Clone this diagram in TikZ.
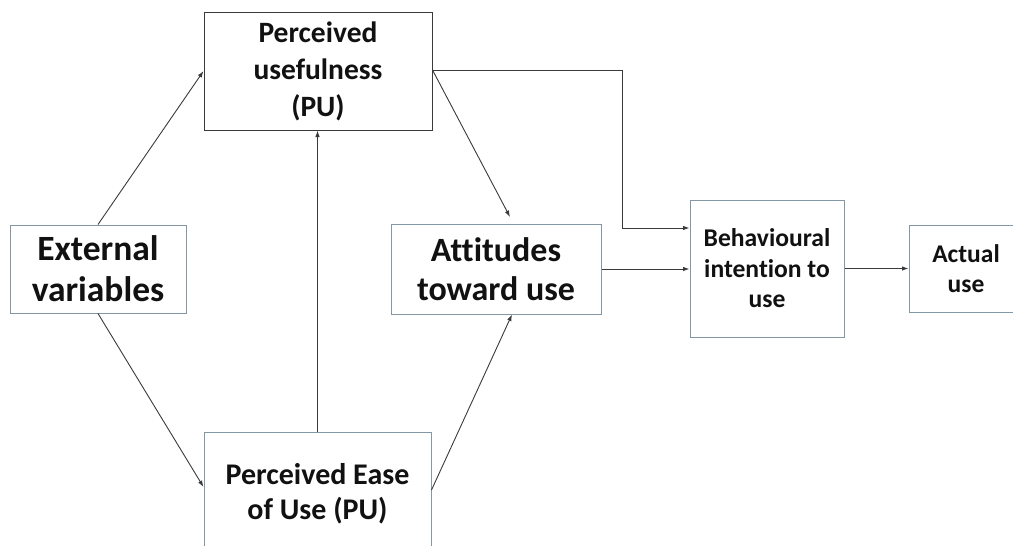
\documentclass[tikz,border=0pt]{standalone}
\usepackage{fontspec}
\setmainfont{Carlito}[Ligatures=NoCommon]
\usetikzlibrary{arrows.meta}
\definecolor{boxline}{HTML}{8397A5}
\definecolor{darkline}{HTML}{3A3A3A}
\definecolor{ink}{HTML}{111111}
\newcommand{\fsz}[2]{\bfseries\fontsize{#1}{#2}\selectfont}
\begin{document}
\begin{tikzpicture}[x=1pt,y=-1pt,
  box/.style={draw=boxline,line width=1pt,fill=white,align=center,
    text=ink,inner sep=0pt},
  link/.style={draw=darkline,line width=0.9pt,
    -{Latex[length=6.5pt,width=4.5pt]}}]
\useasboundingbox (0,0) rectangle (1013,546);
% boxes of the model
\node[box,font=\fsz{35.5}{41},minimum width=176pt,minimum height=88pt] (ext) at (98,269)
  {External\\variables};
\node[box,font=\fsz{29.5}{37},draw=darkline,minimum width=228pt,minimum height=118pt] (pu) at (318,71)
  {Perceived\\usefulness\\(PU)};
\node[box,font=\fsz{30}{35},minimum width=227pt,minimum height=124pt] (peou) at (317.5,494)
  {Perceived Ease\\of Use (PU)};
\node[box,font=\fsz{34}{39},minimum width=210pt,minimum height=90pt] (att) at (496,269)
  {Attitudes\\toward use};
\node[box,font=\fsz{25.6}{30.5},minimum width=154pt,minimum height=137pt] (beh) at (767,268.5)
  {Behavioural\\intention to\\use};
\node[box,font=\fsz{25.5}{30},minimum width=114pt,minimum height=87pt] (act) at (966,268.5)
  {Actual\\use};
% free ends and bends
\coordinate (puout) at (pu.east |- 0,70);
\coordinate (attin) at (510,217);
\coordinate (bend) at (622,70);
% connectors
\draw[link] (ext.north) -- (pu.west);
\draw[link] (ext.south) -- ([yshift=7pt]peou.west);
\draw[link] (peou.north) -- (peou.north |- pu.south);
\draw[link] ([yshift=4pt]peou.east) -- ([xshift=16pt]att.south);
\draw[link] (puout) -- (attin);
\draw[link] (puout) -- (bend) -- (bend |- 0,228) -- (beh.west |- 0,228);
\draw[link] (att.east) -- (beh.west |- att.east);
\draw[link] (beh.east) -- (act.west);
\end{tikzpicture}
\end{document}
